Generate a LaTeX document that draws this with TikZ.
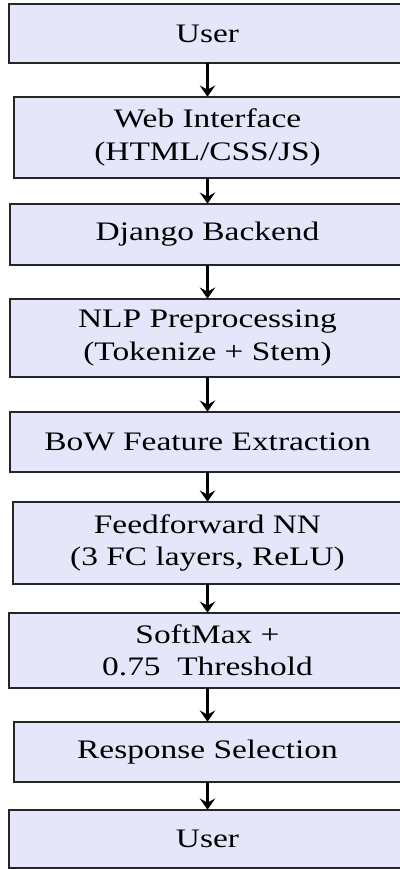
\documentclass[tikz,border=0pt]{standalone}
\usepackage{fontspec}
\setmainfont{Liberation Serif}[FakeStretch=1.25]
\usetikzlibrary{arrows.meta}
\definecolor{boxfill}{RGB}{230,230,250}
\tikzset{
  stage/.style={fill=boxfill, align=center, inner sep=0pt,
    font=\fontsize{19}{23}\selectfont},
  rim/.style={draw=black!85, line width=1.2pt},
  flow/.style={line width=1.6pt, -{Stealth[length=8pt, width=11pt, inset=3pt]}}
}

\begin{document}
\begin{tikzpicture}[x=0.025cm, y=-0.025cm]
			%%%%% START %%%%%
			
			\useasboundingbox (0, 0) rectangle (400, 869);
			\clip (0, 0) rectangle (400, 869);
			
			\node[stage, minimum width=9.9cm, minimum height=1.475cm] (user) at (207.5, 33.5) {User};
			\node[stage, minimum width=9.65cm, minimum height=2.025cm] (web) at (207.5, 137.5) {Web Interface\\(HTML/CSS/JS)};
			\node[stage, minimum width=9.85cm, minimum height=1.525cm] (backend) at (207.5, 234.5) {Django Backend};
			\node[stage, minimum width=9.85cm, minimum height=1.95cm] (nlp) at (207.5, 338) {NLP Preprocessing\\(Tokenize + Stem)};
			\node[stage, minimum width=9.85cm, minimum height=1.5cm] (bow) at (207.5, 442) {BoW Feature Extraction};
			\node[stage, minimum width=9.7cm, minimum height=2.05cm] (ffnn) at (207.5, 543) {Feedforward NN\\(3 FC layers, ReLU)};
			\node[stage, minimum width=9.9cm, minimum height=1.875cm] (softmax) at (207.5, 650.5) {SoftMax +\\0.75~ Threshold};
			\node[stage, minimum width=9.65cm, minimum height=1.5cm] (select) at (207.5, 752) {Response Selection};
			\node[stage, minimum width=9.9cm, minimum height=1.45cm] (userout) at (207.5, 839) {User};
			
			% box outlines, right side runs off the page
			\draw[rim] (user.north east) -| (user.south west) -- (user.south east);
			\draw[rim] (web.north east) -| (web.south west) -- (web.south east);
			\draw[rim] (backend.north east) -| (backend.south west) -- (backend.south east);
			\draw[rim] (nlp.north east) -| (nlp.south west) -- (nlp.south east);
			\draw[rim] (bow.north east) -| (bow.south west) -- (bow.south east);
			\draw[rim] (ffnn.north east) -| (ffnn.south west) -- (ffnn.south east);
			\draw[rim] (softmax.north east) -| (softmax.south west) -- (softmax.south east);
			\draw[rim] (select.north east) -| (select.south west) -- (select.south east);
			\draw[rim] (userout.north east) -| (userout.south west) -- (userout.south east);
			
			\draw[flow] (user) -- (web);
			\draw[flow] (web) -- (backend);
			\draw[flow] (backend) -- (nlp);
			\draw[flow] (nlp) -- (bow);
			\draw[flow] (bow) -- (ffnn);
			\draw[flow] (ffnn) -- (softmax);
			\draw[flow] (softmax) -- (select);
			\draw[flow] (select) -- (userout);
			
			%%%%% END %%%%%
		\end{tikzpicture}
\end{document}
